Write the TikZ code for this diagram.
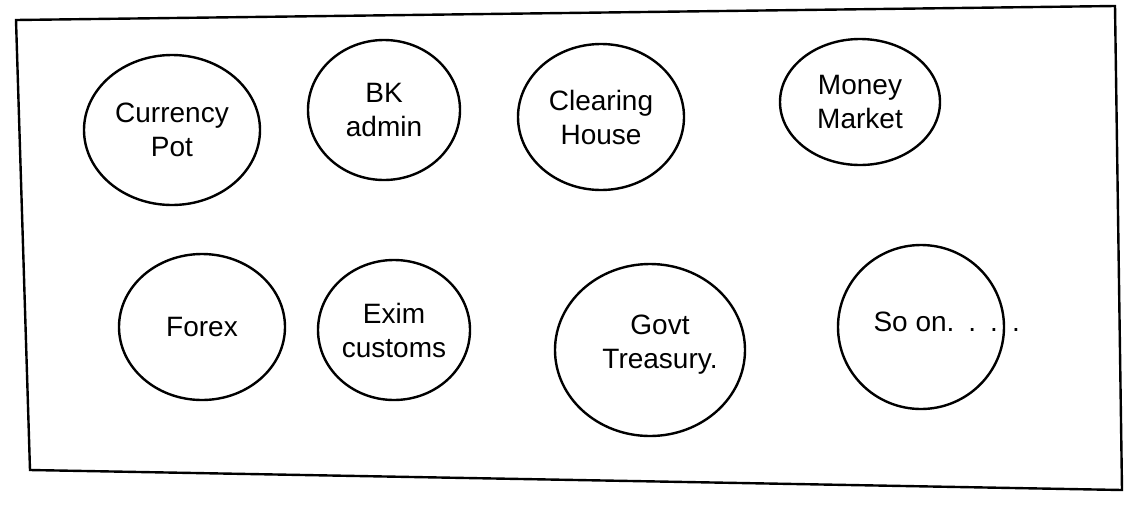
\documentclass[tikz,border=0pt]{standalone}
\usepackage{fontspec}
\setmainfont{Liberation Sans}
\usetikzlibrary{shapes.geometric}
\begin{document}
\begin{tikzpicture}[x=1pt,y=-1pt,
  bubble/.style={draw=black,line width=2.4pt,ellipse,inner sep=0pt},
  lbl/.style={font=\fontsize{28}{34}\selectfont,align=center},
  frame/.style={draw=black,line width=2.4pt}]
\useasboundingbox (0,0) rectangle (1135,512);
\draw[frame] (16,20) -- (1115,6) -- (1122,490) -- (30,470) -- cycle;
% row 1
\node[bubble,minimum width=176pt,minimum height=150pt] (cp) at (172,130) {};
\node[lbl] (cpt) at (cp) {Currency\\Pot};
\node[bubble,minimum width=152pt,minimum height=140pt] (bk) at (384,110) {};
\node[lbl] (bkt) at (bk) {BK\\admin};
\node[bubble,minimum width=166pt,minimum height=146pt] (ch) at (601,117) {};
\node[lbl] (cht) at (ch) {Clearing\\House};
\node[bubble,minimum width=160pt,minimum height=126pt] (mm) at (860,102) {};
\node[lbl] (mmt) at (mm) {Money\\Market};
% row 2
\node[bubble,minimum width=166pt,minimum height=146pt] (fx) at (202,327) {};
\node[lbl] (fxt) at (fx) {Forex};
\node[bubble,minimum width=152pt,minimum height=140pt] (ex) at (394,330) {};
\node[lbl] (ext) at (ex) {Exim\\customs};
\node[bubble,minimum width=190pt,minimum height=172pt] (gt) at (650,350) {};
\node[lbl] (gtt) at (660,345) {Govt\\Treasury.};
\node[bubble,minimum width=166pt,minimum height=164pt] (so) at (921,327) {};
\node[lbl,anchor=west] (sot) at (870,322) {So on.\hspace{14pt}.\hspace{14pt}.\hspace{14pt}.};
\end{tikzpicture}
\end{document}
